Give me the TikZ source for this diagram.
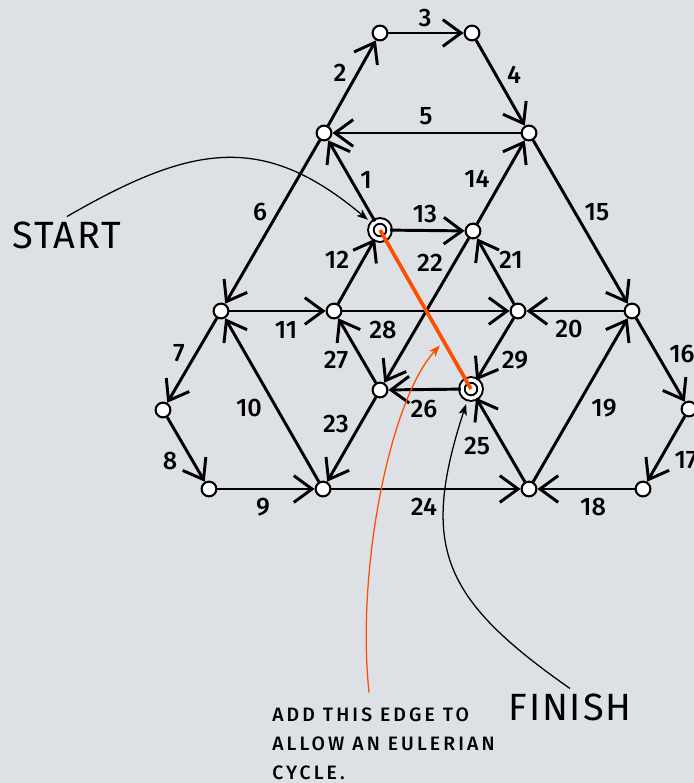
\documentclass[tikz,border=0pt]{standalone}
\usepackage{fontspec}
\setmainfont{Fira Sans}
\newfontfamily\mediumface{Fira Sans Medium}
\usepackage{xcolor}
\usepackage{tikz}
\usetikzlibrary{arrows.meta, positioning}
\definecolor{slate}{RGB}{221,225,229}
\definecolor{fire}{RGB}{255,77,0}

\begin{document}
\begin{tikzpicture}[
        x=0.025cm, y=-0.025cm,
        vertex/.style={circle, draw=black, fill=white, line width=1.5pt, minimum size=10.5pt, inner sep=0pt},
        terminal/.style={circle, draw=black, fill=white, line width=1.4pt, double=white, double distance=2.5pt, minimum size=13pt, inner sep=0pt},
        arrow/.style={-{Straight Barb[length=13pt, width=19pt]}, line width=2.1pt},
        num/.style={font=\mediumface\fontsize{18}{20}\selectfont, inner sep=0pt},
        tag/.style={font=\fontsize{27}{30}\selectfont\addfontfeatures{LetterSpace=5}},
        note/.style={-{Stealth[length=8pt, width=6pt, inset=2pt]}, line width=0.9pt, shorten >=4pt},
        added/.style={fire, line width=2.6pt}
    ]
        \fill[slate] (0,0) rectangle (694,783);
        \useasboundingbox (0,0) rectangle (694,783);

        % Nodes
        \node (a) [vertex] at (380,33) {};
        \node (b) [vertex] at (472,33) {};
        \node (c) [vertex] at (324,133) {};
        \node (d) [vertex] at (529,133) {};
        \node (s) [terminal] at (380,230) {};
        \node (e) [vertex] at (473,231) {};
        \node (f) [vertex] at (221,311) {};
        \node (g) [vertex] at (334,311) {};
        \node (h) [vertex] at (518,311) {};
        \node (i) [vertex] at (632,311) {};
        \node (j) [vertex] at (163,410) {};
        \node (k) [vertex] at (380,390) {};
        \node (t) [terminal] at (471,389) {};
        \node (l) [vertex] at (689,409) {};
        \node (m) [vertex] at (209,489) {};
        \node (n) [vertex] at (323,489) {};
        \node (o) [vertex] at (529,489) {};
        \node (p) [vertex] at (643,489) {};

        % Arrows
        \draw [arrow] (s) -- (c);
        \draw [arrow] (c) -- (a);
        \draw [arrow] (a) -- (b);
        \draw [arrow] (b) -- (d);
        \draw [arrow] (d) -- (c);
        \draw [arrow] (c) -- (f);
        \draw [arrow] (f) -- (j);
        \draw [arrow] (j) -- (m);
        \draw [arrow] (m) -- (n);
        \draw [arrow] (n) -- (f);
        \draw [arrow] (f) -- (g);
        \draw [arrow] (g) -- (s);
        \draw [arrow] (s) -- (e);
        \draw [arrow] (e) -- (d);
        \draw [arrow] (d) -- (i);
        \draw [arrow] (i) -- (l);
        \draw [arrow] (l) -- (p);
        \draw [arrow] (p) -- (o);
        \draw [arrow] (o) -- (i);
        \draw [arrow] (i) -- (h);
        \draw [arrow] (h) -- (e);
        \draw [arrow] (e) -- (k);
        \draw [arrow] (k) -- (n);
        \draw [arrow] (n) -- (o);
        \draw [arrow] (o) -- (t);
        \draw [arrow] (t) -- (k);
        \draw [arrow] (k) -- (g);
        \draw [arrow] (g) -- (h);
        \draw [arrow] (h) -- (t);

        % Extra edge
        \draw [added] (s.center) -- (t.center) coordinate[pos=0.7] (cross);

        % Step numbers
        \node (e1) [num] at (366,180) {1};
        \node (e2) [num] at (340,73) {2};
        \node (e3) [num] at (425,18) {3};
        \node (e4) [num] at (514,75) {4};
        \node (e5) [num] at (426,116) {5};
        \node (e6) [num] at (260,212) {6};
        \node (e7) [num] at (179,353) {7};
        \node (e8) [num] at (170,461) {8};
        \node (e9) [num] at (263,507) {9};
        \node (e10) [num] at (249,408) {10};
        \node (e11) [num] at (286,330) {11};
        \node (e12) [num] at (337,260) {12};
        \node (e13) [num] at (425,214) {13};
        \node (e14) [num] at (477,179) {14};
        \node (e15) [num] at (597,212) {15};
        \node (e16) [num] at (682,354) {16};
        \node (e17) [num] at (686,460) {17};
        \node (e18) [num] at (593,507) {18};
        \node (e19) [num] at (604,408) {19};
        \node (e20) [num] at (569,329) {20};
        \node (e21) [num] at (511,260) {21};
        \node (e22) [num] at (430,263) {22};
        \node (e23) [num] at (336,424) {23};
        \node (e24) [num] at (424,507) {24};
        \node (e25) [num] at (477,446) {25};
        \node (e26) [num] at (424,409) {26};
        \node (e27) [num] at (336,360) {27};
        \node (e28) [num] at (383,330) {28};
        \node (e29) [num] at (515,360) {29};

        % Annotations
        \node (start) [tag] at (67,235) {START};
        \node (finish) [tag] at (570,707) {FINISH};
        \node (eulernote) [anchor=north west, align=left, inner sep=0pt, font=\mediumface\fontsize{13.8}{20.4}\selectfont\addfontfeatures{LetterSpace=16}] at (272,708) {ADD THIS EDGE TO\\ALLOW AN EULERIAN\\CYCLE.};

        \draw [note] (start.north) to[out=30, in=140, looseness=1.2] (s);
        \draw [note] (finish.north) to[out=145, in=-108, looseness=1.3] (t);
        \draw [note, fire] ([xshift=69pt, yshift=11pt]eulernote.north west) .. controls (356,570) and (390,400) .. (cross);

    \end{tikzpicture}
\end{document}
